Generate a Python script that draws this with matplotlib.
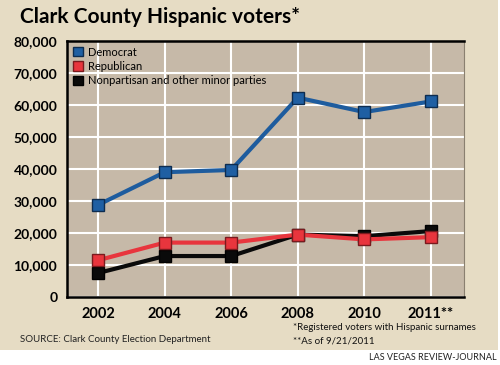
import matplotlib.pyplot as plt
from matplotlib.patches import Rectangle

years = ["2002", "2004", "2006", "2008", "2010", "2011**"]
democrat = [28800, 39000, 39700, 62300, 57800, 61100]
republican = [11500, 17000, 17000, 19500, 18000, 18700]
nonpartisan = [7500, 12800, 12800, 19500, 19000, 20600]
y_ticks = [0, 10000, 20000, 30000, 40000, 50000, 60000, 70000, 80000]

plt.rcParams['font.family'] = ['Lato', 'DejaVu Sans']

fig = plt.figure(figsize=(5, 3.65), dpi=100)
fig.patch.set_facecolor("white")
# beige backing panel, kept behind the axes
bg = Rectangle((0, 15 / 365), 498 / 500, 350 / 365, transform=fig.transFigure,
               facecolor="#e6dcc4", edgecolor="none", zorder=-5)
fig.add_artist(bg)

ax = fig.add_axes([67 / 500, 68 / 365, 397 / 500, 256 / 365])
ax.set_facecolor("#c6b9a8")
x = range(len(years))

ax.plot(x, democrat, color="#1e5c9e", lw=3, marker="s", ms=8.5,
        mfc="#1f5fa3", mec="#0d2c50", mew=1, zorder=3)
ax.plot(x, nonpartisan, color="#0a0a0a", lw=3, marker="s", ms=8.5,
        mfc="#0a0a0a", mec="#000000", mew=1, zorder=3)
ax.plot(x, republican, color="#e8353d", lw=3, marker="s", ms=8.5,
        mfc="#e8353d", mec="#7a1a1e", mew=1, zorder=4)

ax.set_xlim(-0.47, 5.5)
ax.set_ylim(0, 80000)
ax.set_xticks(list(x))
ax.set_xticklabels(years, fontsize=10.5, fontweight="bold")
ax.set_yticks(y_ticks)
ax.set_yticklabels([f"{v:,}" for v in y_ticks], fontsize=10, fontweight="bold")
ax.tick_params(length=0, pad=7)
ax.grid(True, color="white", lw=1.5, zorder=1)
ax.set_axisbelow(True)

for s in ["left", "bottom", "top"]:
    ax.spines[s].set_linewidth(1.8)
    ax.spines[s].set_color("black")
ax.spines["right"].set_linewidth(0.8)
ax.spines["right"].set_color("#8a8070")

# legend with square swatches
handles = [Rectangle((0, 0), 1, 1, fc="#1f5fa3", ec="#0d2c50"),
           Rectangle((0, 0), 1, 1, fc="#e8353d", ec="#7a1a1e"),
           Rectangle((0, 0), 1, 1, fc="#0a0a0a", ec="black")]
labels = ["Democrat", "Republican", "Nonpartisan and other minor parties"]
ax.legend(handles, labels, loc="upper left", frameon=False, fontsize=8,
          handlelength=0.9, handleheight=0.9, handletextpad=0.5,
          labelspacing=0.3, borderaxespad=0.3, borderpad=0.2)

fig.text(20 / 500, 1 - 17 / 365, "Clark County Hispanic voters*", fontsize=15,
         fontweight="bold", va="center", ha="left")
fig.text(20 / 500, 1 - 340 / 365, "SOURCE: Clark County Election Department",
         fontsize=7, va="center", ha="left", color="#222222")
fig.text(293 / 500, 1 - 327 / 365, "*Registered voters with Hispanic surnames",
         fontsize=7, va="center", ha="left", color="#111111")
fig.text(293 / 500, 1 - 341 / 365, "**As of 9/21/2011",
         fontsize=7, va="center", ha="left", color="#111111")
fig.text(497 / 500, 1 - 357 / 365, "LAS VEGAS REVIEW-JOURNAL",
         fontsize=6.5, va="center", ha="right", color="#222222")

fig.savefig("out.png", dpi=100)
